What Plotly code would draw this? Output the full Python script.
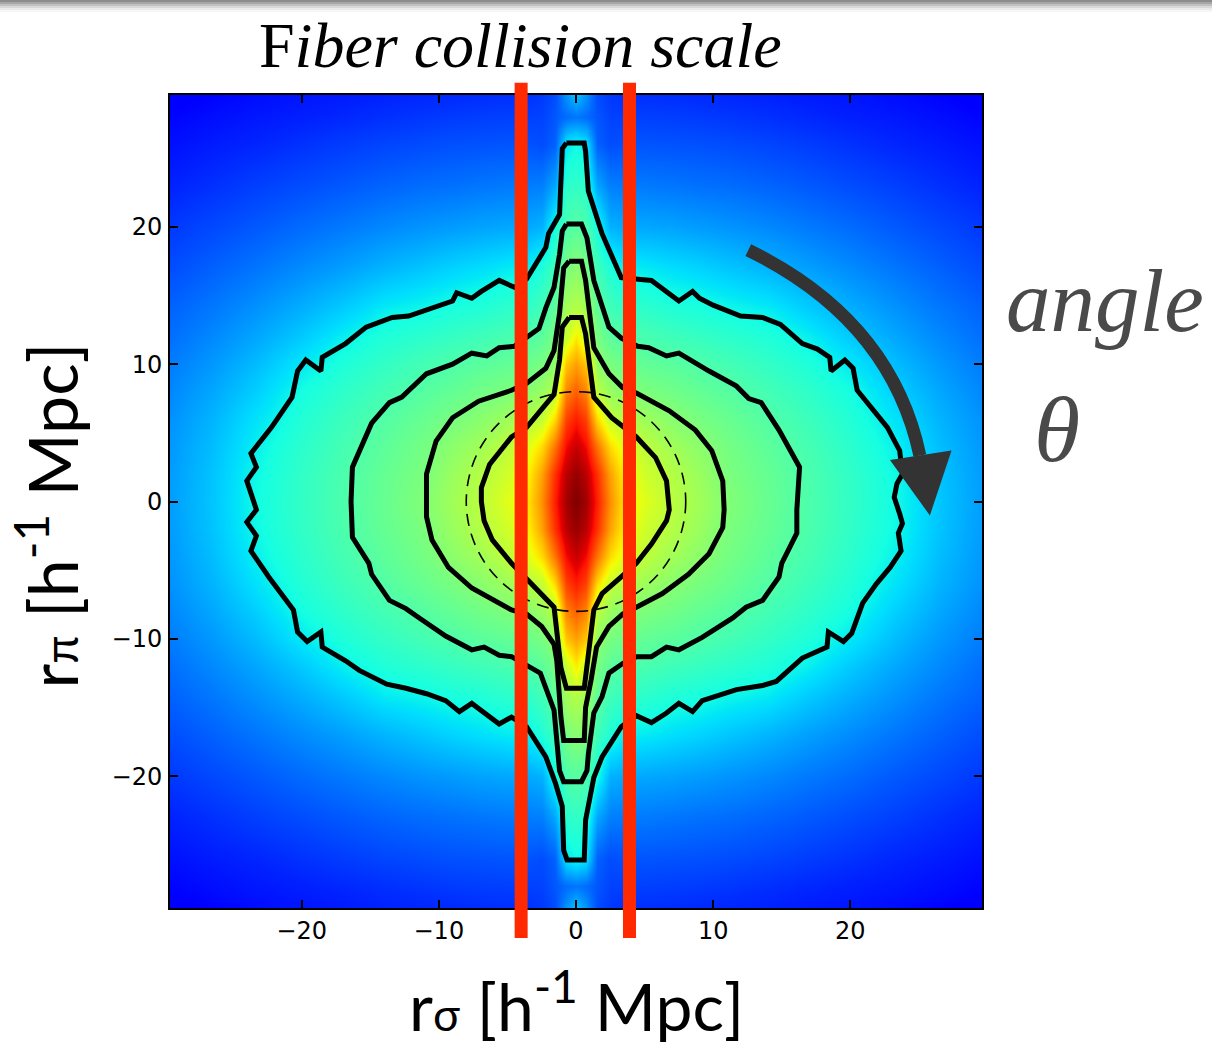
import plotly.graph_objects as go

# ---------------- data ----------------
# colour-scale fraction (jet) of the 2D correlation function, first quadrant nodes
rsigma_nodes = [0, 0.7, 1.5, 2.5, 3.5, 5, 7, 9, 11, 14, 17, 20, 23.5, 26.5, 29.6]
rpi_nodes = [0, 2, 4, 6, 8, 10, 12, 14, 17, 20, 23, 26, 28, 29.6]
xi_quadrant = [
    [1.00, 0.97, 0.88, 0.76, 0.67, 0.62, 0.575, 0.545, 0.508, 0.474, 0.442, 0.41, 0.37, 0.32, 0.28],
    [0.98, 0.95, 0.86, 0.74, 0.655, 0.60, 0.568, 0.536, 0.50, 0.471, 0.44, 0.408, 0.367, 0.318, 0.278],
    [0.94, 0.90, 0.79, 0.68, 0.62, 0.58, 0.545, 0.52, 0.492, 0.462, 0.433, 0.401, 0.359, 0.312, 0.274],
    [0.88, 0.84, 0.68, 0.585, 0.565, 0.54, 0.515, 0.495, 0.476, 0.449, 0.421, 0.39, 0.345, 0.303, 0.268],
    [0.81, 0.77, 0.575, 0.535, 0.515, 0.50, 0.487, 0.47, 0.455, 0.431, 0.405, 0.376, 0.327, 0.29, 0.258],
    [0.74, 0.70, 0.525, 0.495, 0.48, 0.468, 0.458, 0.445, 0.432, 0.41, 0.385, 0.353, 0.308, 0.275, 0.247],
    [0.66, 0.59, 0.495, 0.46, 0.448, 0.437, 0.425, 0.415, 0.403, 0.387, 0.36, 0.324, 0.287, 0.26, 0.234],
    [0.57, 0.55, 0.465, 0.43, 0.41, 0.404, 0.39, 0.382, 0.37, 0.357, 0.326, 0.298, 0.268, 0.244, 0.222],
    [0.515, 0.495, 0.425, 0.386, 0.36, 0.355, 0.343, 0.333, 0.32, 0.302, 0.281, 0.262, 0.239, 0.22, 0.20],
    [0.455, 0.44, 0.38, 0.30, 0.292, 0.29, 0.285, 0.278, 0.271, 0.259, 0.244, 0.23, 0.211, 0.196, 0.18],
    [0.41, 0.40, 0.29, 0.25, 0.247, 0.245, 0.241, 0.236, 0.232, 0.223, 0.212, 0.20, 0.186, 0.172, 0.158],
    [0.37, 0.35, 0.22, 0.20, 0.205, 0.207, 0.205, 0.203, 0.199, 0.192, 0.183, 0.173, 0.16, 0.151, 0.14],
    [0.24, 0.23, 0.21, 0.19, 0.188, 0.187, 0.185, 0.182, 0.178, 0.171, 0.163, 0.155, 0.147, 0.138, 0.128],
    [0.32, 0.27, 0.20, 0.18, 0.172, 0.17, 0.168, 0.165, 0.162, 0.157, 0.15, 0.145, 0.136, 0.127, 0.115],
]

# contour lines (rsigma, rpi), outermost first
contour1_x = [-0.7, 0.6, 0.7, 0.9, 1.9, 3.3, 5.5, 7.5, 8.5, 9.0, 10.0, 12.0, 13.6, 14.9, 16.5, 17.6, 18.5, 18.6, 19.6, 20.2, 20.5, 21.7, 22.7, 23.6, 23.8, 23.4, 23.2,
              23.6, 23.8, 23.5, 23.7, 22.9, 21.9, 20.9, 20.1, 19.5, 18.4, 18.3, 16.5, 14.6, 13.6, 11.7, 9.2, 8.5, 7.5, 6.6, 5.5, 4.4, 3.3, 1.9, 1.3, 0.7, 0.6,
              -0.65, -0.9, -1.0, -1.5, -2.2, -3.6, -4.7, -5.6, -7.6, -8.5, -9.5, -10.9, -12.4, -13.8, -15.8, -16.8, -18.5, -18.6, -19.6, -20.3, -20.6, -22.4, -23.7, -23.3, -24.0, -23.3,
              -24.0, -23.3, -23.7, -22.2, -20.7, -20.3, -19.7, -18.6, -18.5, -16.8, -15.3, -13.4, -12.2, -10.0, -9.0, -8.7, -7.6, -6.9, -5.6, -4.5, -3.6, -2.2, -2.0, -1.2, -1.0, -0.7]
contour1_y = [26.1, 26.1, 25.5, 22.6, 19.5, 16.3, 16.1, 14.6, 15.3, 14.8, 14.3, 13.5, 13.4, 12.9, 11.5, 11.1, 10.5, 9.5, 10.3, 9.7, 8.1, 6.6, 5.4, 3.7, 2.0, 1.3, 0.3,
              -0.9, -1.6, -2.3, -3.6, -4.8, -6.0, -7.4, -9.6, -10.2, -9.5, -10.6, -11.4, -13.1, -13.4, -13.7, -14.5, -15.3, -14.7, -15.4, -16.1, -15.6, -16.4, -18.6, -20.1, -23.2, -26.1,
              -26.1, -25.4, -22.2, -20.5, -18.6, -16.4, -15.7, -16.2, -14.7, -15.3, -14.5, -14.0, -13.6, -13.3, -12.3, -11.6, -10.6, -9.5, -10.2, -9.5, -7.9, -5.5, -3.6, -2.5, -1.5, -0.6,
              1.5, 2.5, 3.5, 5.4, 7.6, 9.5, 10.3, 9.5, 10.5, 11.5, 12.7, 13.4, 13.5, 14.3, 14.6, 15.2, 14.8, 15.3, 16.1, 15.6, 16.2, 18.5, 19.5, 20.9, 25.7, 26.1]

contour2_x = [-0.7, 0.4, 0.8, 1.3, 2.4, 3.3, 4.5, 5.3, 6.6, 7.5, 9.7, 11.7, 12.6, 13.5, 14.8, 16.3, 16.1,
              16.1, 15.0, 14.8, 13.6, 12.4, 11.4, 9.2, 7.5, 6.6, 5.5, 4.4, 3.4, 2.4, 1.9, 1.3, 0.9, 0.8, 0.4,
              -0.9, -1.2, -1.4, -1.6, -2.6, -3.6, -4.7, -5.6, -6.7, -7.6, -9.5, -11.4, -12.4, -13.6, -14.9, -15.1, -16.3, -16.4,
              -16.3, -14.9, -13.6, -12.7, -10.9, -9.0, -7.6, -6.5, -5.6, -4.5, -3.6, -2.7, -2.2, -1.6, -1.2, -1.0, -0.7]
contour2_y = [20.2, 20.2, 19.2, 16.1, 12.7, 11.9, 11.3, 11.2, 10.6, 10.8, 9.5, 8.4, 7.5, 7.2, 5.2, 2.5, -0.6,
              -2.3, -4.5, -5.5, -7.2, -7.7, -8.5, -9.9, -10.8, -10.6, -11.3, -11.3, -11.8, -12.5, -14.2, -15.4, -18.4, -19.6, -20.4,
              -20.4, -19.6, -16.9, -15.2, -12.5, -11.9, -11.3, -11.2, -10.6, -10.8, -9.8, -8.5, -7.8, -7.2, -5.3, -4.5, -2.6, 0.0,
              2.5, 5.7, 7.2, 7.6, 9.3, 10.0, 10.8, 10.6, 11.2, 11.3, 11.9, 12.6, 14.1, 15.6, 18.0, 19.7, 20.2]

contour3_x = [-0.5, 0.4, 0.7, 1.3, 2.4, 3.4, 4.4, 6.8, 8.7, 9.9, 10.7, 10.8, 10.7, 9.7, 8.2, 6.3, 4.4, 3.4, 2.4, 1.5, 1.1, 0.7, 0.6,
              -0.9, -1.1, -1.4, -1.6, -2.5, -3.6, -4.7, -7.6, -9.3, -10.5, -10.9, -10.9, -10.9, -10.2, -9.0, -7.1, -4.7, -3.6, -2.2, -1.6, -1.2, -0.9, -0.5]
contour3_y = [17.5, 17.5, 16.1, 11.2, 9.3, 8.3, 7.9, 6.6, 5.2, 3.7, 1.5, -0.6, -1.9, -3.8, -5.3, -6.7, -7.7, -8.2, -9.1, -10.6, -13.0, -15.0, -17.4,
              -17.4, -15.7, -11.6, -10.4, -9.1, -8.2, -7.9, -6.3, -4.8, -2.8, -1.1, 0.0, 2.0, 4.4, 6.1, 7.3, 8.1, 8.6, 9.7, 11.0, 13.7, 17.0, 17.5]

contour4_x = [-0.5, 0.4, 0.7, 1.3, 2.6, 3.4, 4.4, 5.8, 6.6, 6.8, 6.6, 5.5, 4.4, 3.4, 1.9, 1.3, 0.9, 0.6,
              -0.7, -1.1, -1.6, -3.6, -4.7, -6.1, -6.7, -6.9, -6.9, -6.3, -4.7, -3.6, -2.5, -1.6, -1.2, -1.0, -0.5]
contour4_y = [13.4, 13.4, 12.2, 7.6, 6.1, 5.5, 4.7, 3.2, 1.5, -0.6, -1.4, -3.1, -4.5, -5.4, -6.7, -7.9, -11.1, -13.6,
              -13.6, -12.1, -7.7, -5.7, -4.5, -2.8, -1.4, 0.0, 1.0, 2.7, 4.7, 5.4, 6.7, 7.8, 10.3, 12.7, 13.4]

iso_radius = 8.0                       # dashed reference circle
fiber_collision_rsigma = [-4.0, 3.9]   # red vertical lines

x_ticks = [-20, -10, 0, 10, 20]
y_ticks = [-20, -10, 0, 10, 20]

# ---------------- build mirrored grid ----------------
x_full = [-v for v in reversed(rsigma_nodes[1:])] + rsigma_nodes
y_full = [-v for v in reversed(rpi_nodes[1:])] + rpi_nodes
rows_half = [list(reversed(r[1:])) + r for r in xi_quadrant]
z_full = list(reversed(rows_half[1:])) + rows_half

# matplotlib "jet" colour map
jet_r = [(0, 0), (0.35, 0), (0.66, 1), (0.89, 1), (1, 0.5)]
jet_g = [(0, 0), (0.125, 0), (0.375, 1), (0.64, 1), (0.91, 0), (1, 0)]
jet_b = [(0, 0.5), (0.11, 1), (0.34, 1), (0.65, 0), (1, 0)]


def seg_val(seg, t):
    for (a, va), (b, vb) in zip(seg[:-1], seg[1:]):
        if a <= t <= b:
            return va + (vb - va) * (t - a) / (b - a) if b > a else va
    return seg[-1][1]


stops = sorted(set(p for s in (jet_r, jet_g, jet_b) for p, _ in s))
jet = [[s, "rgb(%d,%d,%d)" % (round(255 * seg_val(jet_r, s)), round(255 * seg_val(jet_g, s)),
                              round(255 * seg_val(jet_b, s)))] for s in stops]

fig = go.Figure()
fig.add_trace(go.Heatmap(x=x_full, y=y_full, z=z_full, colorscale=jet, zmin=0, zmax=1,
                         zsmooth="best", showscale=False, hoverinfo="skip"))

for cx, cy in [(contour1_x, contour1_y), (contour2_x, contour2_y),
               (contour3_x, contour3_y), (contour4_x, contour4_y)]:
    fig.add_trace(go.Scatter(x=cx, y=cy, mode="lines", line=dict(color="black", width=5),
                             hoverinfo="skip", showlegend=False))

shapes = []
# dashed circle
shapes.append(dict(type="circle", xref="x", yref="y", x0=-iso_radius, y0=-iso_radius,
                   x1=iso_radius, y1=iso_radius, line=dict(color="black", width=1.6, dash="12px,8px")))
# red fiber collision lines (extend beyond the frame)
for xv in fiber_collision_rsigma:
    shapes.append(dict(type="line", xref="x", yref="paper", x0=xv, x1=xv, y0=-0.037, y1=1.015,
                       line=dict(color="rgb(255,42,0)", width=13)))
# curved arrow for the angle
shapes.append(dict(type="path", xref="x", yref="y", path="M 12.56,18.3 Q 22.96,13.24 25.07,3.35",
                   line=dict(color="#333333", width=13)))
shapes.append(dict(type="path", xref="x", yref="y", path="M 22.89,3.03 L 27.38,3.71 L 25.80,-1.02 Z",
                   fillcolor="#333333", line=dict(color="#333333", width=0)))
# slide shadow at the top of the picture
for i, c in enumerate(["#8c8c8c", "#a6a6a6", "#c0c0c0", "#d8d8d8", "#ebebeb", "#f6f6f6"]):
    shapes.append(dict(type="rect", xref="paper", yref="paper", x0=-0.25, x1=1.3,
                       y0=1.1169 - (i + 1) * 2 / 813, y1=1.1169 - i * 2 / 813,
                       fillcolor=c, line=dict(width=0), layer="above"))

axis_common = dict(showgrid=False, zeroline=False, showline=True, linecolor="black", linewidth=2,
                   mirror="ticks", ticks="inside", ticklen=8, tickwidth=1.5, tickcolor="black",
                   tickfont=dict(family="DejaVu Sans", size=24, color="black"),
                   range=[-29.6, 29.6])

fig.update_layout(
    width=1212, height=1048,
    margin=dict(l=170, r=230, t=95, b=140),
    paper_bgcolor="white", plot_bgcolor="white",
    xaxis=dict(**axis_common, tickvals=x_ticks, ticklabelstandoff=0),
    yaxis=dict(**axis_common, tickvals=y_ticks, ticklabelstandoff=1),
    shapes=shapes,
    annotations=[
        dict(text="F<i>iber collision scale</i>", xref="paper", yref="paper", x=0.432, y=1,
             yshift=50, xanchor="center", yanchor="middle", showarrow=False,
             font=dict(family="Liberation Serif", size=64, color="black")),
        dict(text="<i>angle</i>", xref="paper", yref="paper", x=1.1515, y=0.7466,
             xanchor="center", yanchor="middle", showarrow=False,
             font=dict(family="Liberation Serif", size=89, color="#4a4a4a")),
        dict(text="<i>θ</i>", xref="paper", yref="paper", x=1.0924, y=0.589,
             xanchor="center", yanchor="middle", showarrow=False,
             font=dict(family="Liberation Serif", size=94, color="#4a4a4a")),
        dict(text='r<span style="font-size:45px">σ</span> [h<sup>-1</sup> Mpc]', xref="paper", yref="paper",
             x=0.5, y=0, yshift=-93, xanchor="center", yanchor="middle", showarrow=False,
             font=dict(family="Lato", size=66, color="black")),
        dict(text='r<span style="font-size:46px">π</span> [h<sup>-1</sup> Mpc]', xref="paper", yref="paper",
             x=0, y=0.5, xshift=-123, yshift=-14, xanchor="center", yanchor="middle", textangle=-90,
             showarrow=False, font=dict(family="Lato", size=68, color="black")),
    ],
)

fig.write_html("out.html")
